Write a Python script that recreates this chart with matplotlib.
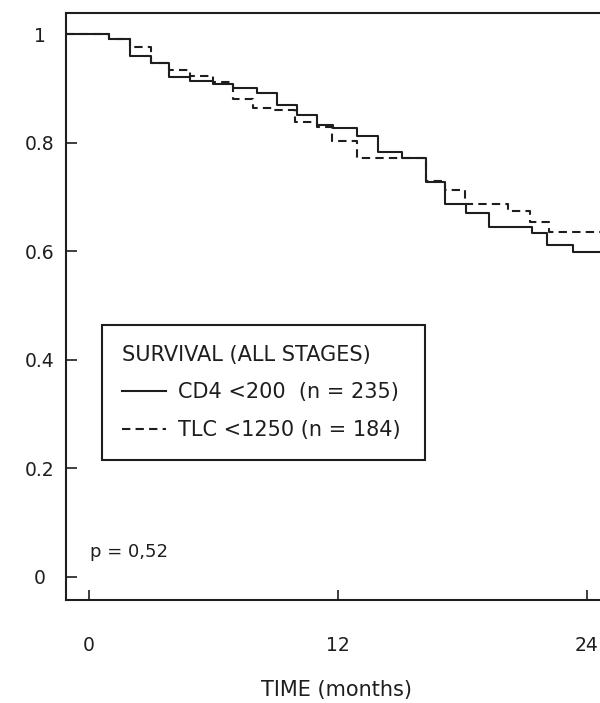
import matplotlib
matplotlib.use("Agg")
import matplotlib.pyplot as plt

plt.rcParams['font.family'] = ['DejaVu Sans']

# Kaplan-Meier step data (months, survival)
cd4_times = [0, 0.96, 1.98, 2.99, 3.86, 4.87, 5.98, 6.94, 8.10, 9.06, 10.02, 10.99,
             11.76, 12.92, 13.93, 15.08, 16.24, 17.16, 18.17, 19.28, 21.35, 22.07, 23.33]
cd4_surv = [1.0, 0.99, 0.959, 0.947, 0.921, 0.913, 0.908, 0.900, 0.891, 0.869, 0.851, 0.832,
            0.827, 0.812, 0.783, 0.772, 0.727, 0.687, 0.670, 0.645, 0.634, 0.611, 0.599]

tlc_times = [0, 0.96, 1.98, 2.99, 3.86, 4.87, 5.98, 6.94, 7.90, 8.87, 9.93, 10.99,
             11.71, 12.92, 16.24, 17.16, 18.12, 20.19, 21.25, 22.17]
tlc_surv = [1.0, 0.99, 0.976, 0.947, 0.934, 0.923, 0.912, 0.880, 0.864, 0.860, 0.838, 0.829,
            0.803, 0.772, 0.729, 0.713, 0.687, 0.674, 0.654, 0.635]

x_ticks = [0, 12, 24]
x_ticklabels = ['0', '12', '24']
y_ticks = [0, 0.2, 0.4, 0.6, 0.8, 1.0]
y_ticklabels = ['0', '0.2', '0.4', '0.6', '0.8', '1']

labels = ['CD4 <200  (n = 235)', 'TLC <1250 (n = 184)']
legend_title = 'SURVIVAL (ALL STAGES)'
p_text = 'p = 0,52'
xlabel = 'TIME (months)'

ink = '#1e1e1e'
fs_tick = 13.5
fs_big = 15

fig = plt.figure(figsize=(6.0, 7.03), dpi=100)
ax = fig.add_axes([0.11, 0.1465, 0.89, 0.835])
xmin, xmax = -1.108, 24.63
ax.set_xlim(xmin, xmax)
ax.set_ylim(-0.0424, 1.0387)

def extend(times, surv):
    return [xmin] + list(times) + [xmax], [surv[0]] + list(surv) + [surv[-1]]

tx, sy = extend(cd4_times, cd4_surv)
ax.step(tx, sy, where='post', color=ink, lw=1.5, label=labels[0])
tx, sy = extend(tlc_times, tlc_surv)
ax.step(tx, sy, where='post', color=ink, lw=1.5, dashes=(4, 2.5), label=labels[1])

for s in ['left', 'bottom', 'top']:
    ax.spines[s].set_color(ink)
    ax.spines[s].set_linewidth(1.5)
ax.spines['right'].set_visible(False)

ax.set_xticks(x_ticks)
ax.set_xticklabels(x_ticklabels)
ax.set_yticks(y_ticks)
ax.set_yticklabels(y_ticklabels)
ax.tick_params(axis='x', direction='in', length=7, width=1.2, color=ink, pad=26,
               labelsize=fs_tick, labelcolor=ink)
ax.tick_params(axis='y', direction='in', length=8, width=1.2, color=ink, pad=19,
               labelsize=fs_tick, labelcolor=ink)
for lab in ax.get_yticklabels():
    lab.set_horizontalalignment('center')

ax.set_xlabel(xlabel, fontsize=fs_big, color=ink)
ax.xaxis.set_label_coords(0.507, -0.153)
ax.xaxis.label.set_verticalalignment('center')

ax.text(0.045, 0.082, p_text, transform=ax.transAxes, fontsize=13, color=ink,
        ha='left', va='center')

leg = ax.legend(title=legend_title, loc='upper left',
                bbox_to_anchor=(0.0674, 0.4685 - 0.3, 0.605, 0.3), mode='expand',
                borderaxespad=0, fontsize=fs_big, title_fontsize=fs_big, alignment='left',
                handlelength=2.1, handletextpad=0.6, labelspacing=0.85,
                borderpad=0.95, fancybox=False, frameon=True, labelcolor=ink)
leg.get_title().set_color(ink)
fr = leg.get_frame()
fr.set_edgecolor(ink)
fr.set_linewidth(1.5)
fr.set_alpha(1)

fig.savefig('out.png', dpi=100)
